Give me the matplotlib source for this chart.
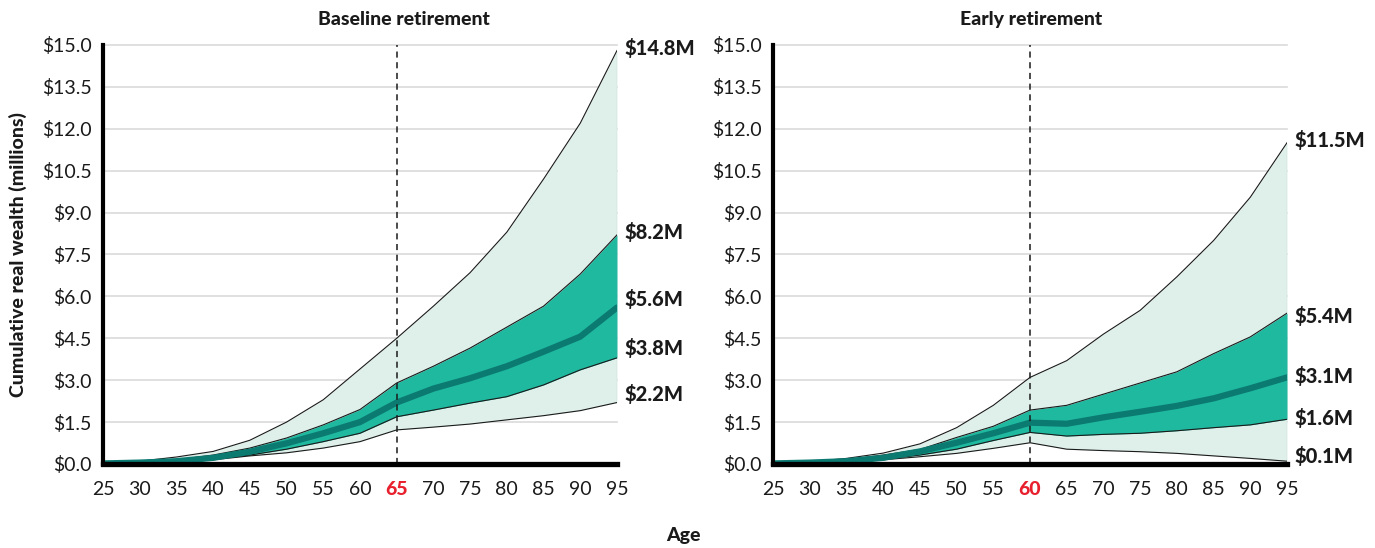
import matplotlib.pyplot as plt
import numpy as np

plt.rcParams["font.family"] = ["Lato", "DejaVu Sans"]

# Simulated real wealth paths, percentiles by age ($ millions)
ages = [25, 30, 35, 40, 45, 50, 55, 60, 65, 70, 75, 80, 85, 90, 95]

base_p95 = [0.05, 0.10, 0.25, 0.45, 0.85, 1.50, 2.30, 3.40, 4.50, 5.65, 6.85, 8.30, 10.20, 12.20, 14.80]
base_p75 = [0.03, 0.07, 0.15, 0.32, 0.57, 0.93, 1.40, 1.95, 2.90, 3.50, 4.15, 4.90, 5.65, 6.80, 8.20]
base_p50 = [0.02, 0.05, 0.10, 0.22, 0.44, 0.74, 1.10, 1.50, 2.20, 2.70, 3.07, 3.50, 4.02, 4.56, 5.60]
base_p25 = [0.02, 0.04, 0.08, 0.17, 0.32, 0.53, 0.80, 1.10, 1.69, 1.93, 2.18, 2.41, 2.83, 3.37, 3.80]
base_p5 = [0.01, 0.03, 0.07, 0.15, 0.29, 0.40, 0.57, 0.80, 1.22, 1.32, 1.43, 1.58, 1.73, 1.91, 2.20]

early_p95 = [0.04, 0.08, 0.20, 0.39, 0.72, 1.30, 2.10, 3.10, 3.70, 4.65, 5.50, 6.70, 8.00, 9.55, 11.50]
early_p75 = [0.03, 0.07, 0.15, 0.32, 0.52, 0.95, 1.35, 1.93, 2.10, 2.50, 2.90, 3.30, 3.95, 4.55, 5.40]
early_p50 = [0.02, 0.05, 0.10, 0.22, 0.45, 0.76, 1.10, 1.48, 1.44, 1.67, 1.87, 2.08, 2.35, 2.71, 3.10]
early_p25 = [0.02, 0.04, 0.08, 0.17, 0.32, 0.53, 0.84, 1.13, 1.00, 1.06, 1.10, 1.19, 1.30, 1.40, 1.60]
early_p5 = [0.01, 0.03, 0.07, 0.15, 0.26, 0.38, 0.56, 0.76, 0.53, 0.48, 0.44, 0.38, 0.29, 0.20, 0.10]

titles = ["Baseline retirement", "Early retirement"]
retire_ages = [65, 60]

# vertical nudges for the end-of-line value labels (p95, p75, p50, p25, p5)
label_nudge = [[0.1, 0.1, 0.3, 0.35, 0.3],
               [0.1, -0.1, 0.05, 0.05, 0.2]]

LIGHT = "#dff0eb"
TEAL = "#1fb9a0"
MEDIAN = "#0b7a71"
RED = "#e8202e"
INK = "#1a1a1a"

fig = plt.figure(figsize=(13.75, 5.48), dpi=100)
axes = [fig.add_axes([0.0749, 0.1533, 0.3738, 0.7646]),
        fig.add_axes([0.5622, 0.1533, 0.3738, 0.7646])]

panels = [(base_p5, base_p25, base_p50, base_p75, base_p95),
          (early_p5, early_p25, early_p50, early_p75, early_p95)]

yticks = np.arange(0, 15.01, 1.5)
xticks = list(range(25, 96, 5))

for ax, (p5, p25, p50, p75, p95), title, retire, nudge in zip(
        axes, panels, titles, retire_ages, label_nudge):
    for yv in yticks:
        ax.plot([25, 95], [yv, yv], color="#dadada", lw=1.2, zorder=0,
                clip_on=False)

    ax.fill_between(ages, p5, p95, color=LIGHT, lw=0, zorder=1)
    ax.fill_between(ages, p25, p75, color=TEAL, lw=0, zorder=2)
    for s in (p5, p95, p25, p75):
        ax.plot(ages, s, color=INK, lw=0.8, zorder=3)
    ax.plot([95, 95], [p5[-1], p95[-1]], color="#8a8a8a", lw=0.8, zorder=3)
    ax.plot(ages, p50, color=MEDIAN, lw=4.5, solid_capstyle="round",
            zorder=4)

    ax.plot([retire, retire], [0, 15], color=INK, lw=1.1,
            ls=(0, (4, 3)), zorder=5)

    for s, dy in zip((p95, p75, p50, p25, p5), nudge):
        ax.text(96.0, s[-1] + dy, f"${s[-1]:.1f}M", ha="left", va="center",
                fontsize=14.5, fontweight="black", color=INK, clip_on=False)

    ax.set_xlim(25, 95)
    ax.set_ylim(0, 15)
    ax.set_yticks(yticks)
    ax.set_yticklabels([f"${v:.1f}" for v in yticks])
    ax.set_xticks(xticks)
    ax.set_xticklabels([str(a) for a in xticks])
    ax.tick_params(length=0, labelsize=14, colors=INK)
    ax.tick_params(axis="y", pad=8)
    ax.tick_params(axis="x", pad=12)
    for lab, a in zip(ax.get_xticklabels(), xticks):
        if a == retire:
            lab.set_color(RED)
            lab.set_fontweight("black")

    for side in ("top", "right"):
        ax.spines[side].set_visible(False)
    ax.spines["left"].set_linewidth(3.0)
    ax.spines["bottom"].set_linewidth(3.8)
    ax.spines["left"].set_zorder(6)
    ax.spines["bottom"].set_zorder(6)
    ax.set_facecolor("none")

fig.text(0.294, 0.965, titles[0], ha="center", va="center",
         fontsize=14, fontweight="black", color=INK)
fig.text(0.750, 0.965, titles[1], ha="center", va="center",
         fontsize=14, fontweight="black", color=INK)
fig.text(0.497, 0.023, "Age", ha="center", va="center",
         fontsize=14, fontweight="black", color=INK)
fig.text(0.013, 0.535, "Cumulative real wealth (millions)", rotation=90,
         ha="center", va="center", fontsize=14, fontweight="black", color=INK)

fig.savefig("out.png", dpi=100)
